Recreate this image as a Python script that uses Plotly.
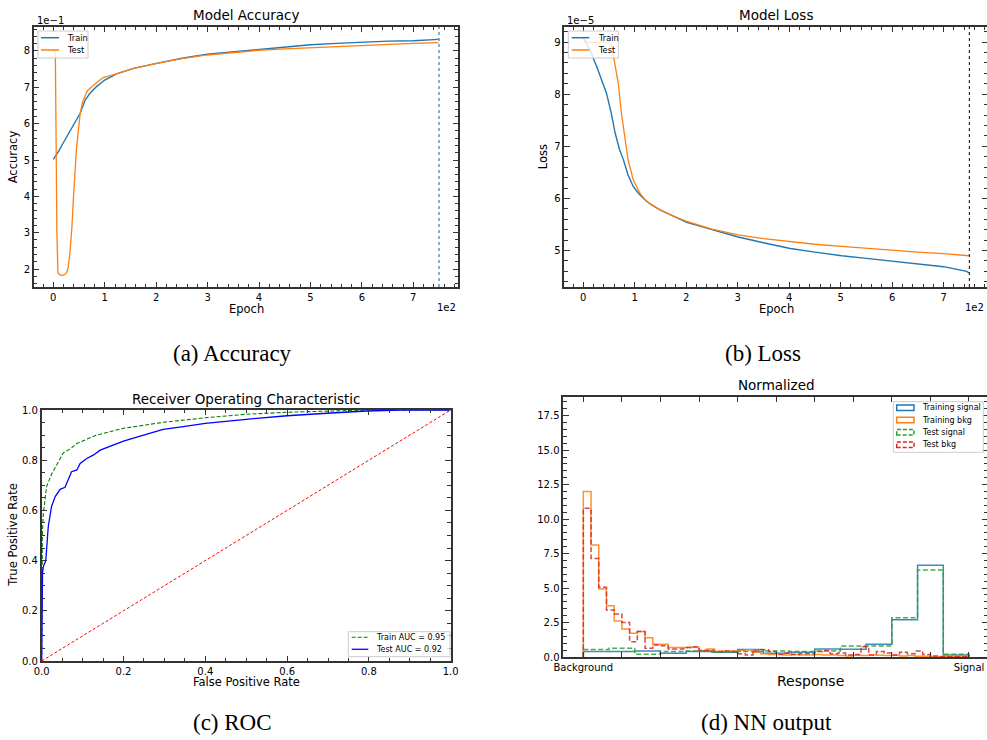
import plotly.graph_objects as go

W, H = 987, 740
FONT = "DejaVu Sans"
SERIF = "Liberation Serif"
SPINE = "#333333"
C_BLUE, C_ORANGE, C_GREEN, C_RED = "#1f77b4", "#ff7f0e", "#2ca02c", "#d62728"

# ---------------- (a) accuracy per epoch ----------------
acc_train_epoch = [0, 10, 19, 32, 42, 52, 62, 71, 84, 100, 123, 156, 201, 250, 299,
                   350, 399, 450, 500, 551, 600, 651, 700, 749]
acc_train = [0.502, 0.523, 0.546, 0.578, 0.605, 0.628, 0.665, 0.683, 0.702, 0.720,
             0.737, 0.752, 0.766, 0.780, 0.791, 0.798, 0.805, 0.811, 0.817, 0.821,
             0.824, 0.827, 0.828, 0.832]
acc_test_epoch = [0, 4, 7, 9, 13, 20, 26, 29, 32, 36, 39, 42, 45, 49, 52, 57, 62, 66,
                  78, 97, 123, 156, 201, 250, 299, 350, 399, 450, 500, 551, 600, 651,
                  700, 749]
acc_test = [0.800, 0.795, 0.300, 0.190, 0.183, 0.183, 0.190, 0.205, 0.240, 0.310,
            0.390, 0.460, 0.530, 0.585, 0.625, 0.660, 0.680, 0.690, 0.706, 0.727,
            0.737, 0.752, 0.766, 0.779, 0.789, 0.796, 0.802, 0.806, 0.809, 0.813,
            0.817, 0.819, 0.821, 0.823]

# ---------------- (b) loss per epoch (units of 1e-5) ----------------
loss_train_epoch = [0, 13, 26, 36, 45, 54, 62, 70, 78, 87, 97, 107, 117, 132, 149,
                    175, 201, 250, 301, 350, 402, 450, 502, 550, 602, 650, 700, 745, 749]
loss_train = [9.08, 8.85, 8.53, 8.28, 8.02, 7.65, 7.25, 6.95, 6.74, 6.45, 6.23, 6.10,
              6.00, 5.88, 5.78, 5.66, 5.54, 5.40, 5.26, 5.15, 5.04, 4.97, 4.90, 4.85,
              4.79, 4.74, 4.69, 4.60, 4.57]
loss_test_epoch = [0, 25, 50, 55, 60, 64, 68, 74, 81, 87, 97, 110, 123, 149, 175, 201,
                   250, 301, 350, 402, 450, 502, 550, 602, 650, 700, 749]
loss_test = [9.00, 9.00, 8.99, 8.93, 8.65, 8.40, 8.21, 7.64, 7.12, 6.74, 6.36, 6.10,
             5.94, 5.78, 5.66, 5.56, 5.41, 5.30, 5.23, 5.17, 5.12, 5.08, 5.04, 5.00,
             4.97, 4.94, 4.90]

# ---------------- (c) ROC curves ----------------
roc_train_fpr = [0.0, 0.0, 0.0016, 0.004, 0.012, 0.024, 0.053, 0.07, 0.086, 0.134,
                 0.2, 0.297, 0.4, 0.5, 0.6, 0.713, 0.8, 1.0]
roc_train_tpr = [0.0, 0.45, 0.509, 0.588, 0.695, 0.744, 0.83, 0.845, 0.867, 0.9,
                 0.927, 0.951, 0.969, 0.983, 0.991, 0.996, 1.0, 1.0]
roc_test_fpr = [0.0, 0.002, 0.004, 0.010, 0.016, 0.024, 0.033, 0.045, 0.057, 0.065,
                0.073, 0.086, 0.094, 0.110, 0.126, 0.143, 0.167, 0.200, 0.249, 0.297,
                0.346, 0.400, 0.500, 0.600, 0.697, 0.795, 0.876, 1.0]
roc_test_tpr = [0.0, 0.35, 0.376, 0.400, 0.535, 0.615, 0.655, 0.684, 0.692, 0.720,
                0.754, 0.761, 0.787, 0.807, 0.820, 0.840, 0.856, 0.876, 0.900, 0.923,
                0.934, 0.947, 0.963, 0.977, 0.987, 0.996, 1.0, 1.0]
auc_train, auc_test = 0.95, 0.92

# ---------------- (d) normalized NN response histograms ----------------
sig_train = [0.39, 0.39, 0.44, 0.27, 0.39, 0.34, 0.55, 0.27, 0.34, 0.58, 0.56, 0.92,
             2.70, 6.65, 0.15]
sig_test = [0.55, 0.63, 0.20, 0.39, 0.44, 0.34, 0.39, 0.44, 0.39, 0.44, 0.80, 0.80,
            2.85, 6.30, 0.20]
bkg_train = [12.0, 8.12, 4.93, 3.72, 2.61, 2.03, 1.72, 1.84, 1.40, 0.92, 0.92, 0.68,
             0.68, 0.68, 0.73, 0.48, 0.58, 0.39, 0.44, 0.44, 0.48, 0.53, 0.34, 0.24,
             0.19, 0.24, 0.15, 0.19, 0.15, 0.15, 0.19, 0.15, 0.15, 0.10, 0.07, 0.12,
             0.10, 0.15, 0.12, 0.10, 0.12, 0.08, 0.10, 0.05, 0.05, 0.03, 0.02, 0.01,
             0.01, 0.01]
bkg_test = [10.78, 7.15, 5.05, 3.41, 3.12, 2.51, 1.11, 1.84, 0.63, 0.87, 0.82, 0.58,
            0.58, 0.68, 0.73, 0.48, 0.48, 0.39, 0.44, 0.39, 0.24, 0.15, 0.44, 0.53,
            0.39, 0.19, 0.29, 0.19, 0.24, 0.24, 0.39, 0.48, 0.24, 0.29, 0.15, 0.19,
            0.75, 0.15, 0.39, 0.29, 0.15, 0.34, 0.24, 0.44, 0.19, 0.07, 0.03, 0.02,
            0.01, 0.01]
resp_ticks = [i / 10 for i in range(11)]
resp_ticktext = ["Background"] + [""] * 9 + ["Signal"]


def fx(px):
    return px / W


def fy(py):
    return 1 - py / H


def step_outline(heights):
    """Outline of a step histogram on [0, 1] with equal-width bins."""
    n = len(heights)
    edges = [i / n for i in range(n + 1)]
    xs = [edges[0]] + edges[:-1] + [edges[-1]]
    ys = [0.0] + list(heights) + [0.0]
    return xs, ys


fig = go.Figure()

# (a)
fig.add_trace(go.Scatter(x=acc_train_epoch, y=acc_train, mode="lines",
                         line=dict(color=C_BLUE, width=1.4), xaxis="x", yaxis="y"))
fig.add_trace(go.Scatter(x=acc_test_epoch, y=acc_test, mode="lines",
                         line=dict(color=C_ORANGE, width=1.3), xaxis="x", yaxis="y"))
# (b)
fig.add_trace(go.Scatter(x=loss_train_epoch, y=loss_train, mode="lines",
                         line=dict(color=C_BLUE, width=1.4), xaxis="x2", yaxis="y2"))
fig.add_trace(go.Scatter(x=loss_test_epoch, y=loss_test, mode="lines",
                         line=dict(color=C_ORANGE, width=1.3), xaxis="x2", yaxis="y2"))
# (c)
fig.add_trace(go.Scatter(x=roc_train_fpr, y=roc_train_tpr, mode="lines",
                         line=dict(color="#008000", width=1.1, dash="4px,2px"),
                         xaxis="x3", yaxis="y3"))
fig.add_trace(go.Scatter(x=roc_test_fpr, y=roc_test_tpr, mode="lines",
                         line=dict(color="#0000ff", width=1.3), xaxis="x3", yaxis="y3"))
fig.add_trace(go.Scatter(x=[0, 1], y=[0, 1], mode="lines",
                         line=dict(color="#ff0000", width=1, dash="3px,2px"),
                         xaxis="x3", yaxis="y3"))
# (d)
for vals, col, dash in [(sig_train, C_BLUE, "solid"), (bkg_train, C_ORANGE, "solid"),
                        (sig_test, C_GREEN, "5px,2.5px"), (bkg_test, C_RED, "5px,2.5px")]:
    xs, ys = step_outline(vals)
    fig.add_trace(go.Scatter(x=xs, y=ys, mode="lines", line_shape="hv",
                             line=dict(color=col, width=1.5, dash=dash), opacity=0.85,
                             xaxis="x4", yaxis="y4"))

fig.update_traces(showlegend=False, hoverinfo="skip")

AX = dict(showline=True, linecolor=SPINE, linewidth=1.6, mirror="ticks",
          ticks="inside", ticklen=5.5, tickwidth=1, tickcolor=SPINE,
          showgrid=False, zeroline=False, automargin=False,
          tickfont=dict(family=FONT, size=10, color="black"))


def minor(d):
    return dict(tickmode="linear", ticks="inside", ticklen=3.5, tickwidth=0.9,
                tickcolor=SPINE, dtick=d, tick0=0, showgrid=False)


top_ab, bot_ab = fy(287), fy(27)
fig.update_layout(
    template="none",
    width=W, height=H, margin=dict(l=0, r=0, t=0, b=0, autoexpand=False),
    paper_bgcolor="white", plot_bgcolor="white", showlegend=False,
    xaxis=dict(AX, domain=[fx(34), fx(458)], anchor="y", range=[-37.5, 786.9],
               tickmode="array", tickvals=[0, 100, 200, 300, 400, 500, 600, 700],
               ticktext=[str(i) for i in range(8)], minor=minor(20)),
    yaxis=dict(AX, domain=[top_ab, bot_ab], anchor="x", range=[0.1505, 0.866],
               tickmode="array", tickvals=[0.2, 0.3, 0.4, 0.5, 0.6, 0.7, 0.8],
               ticktext=[str(i) for i in range(2, 9)], minor=minor(0.02)),
    xaxis2=dict(AX, domain=[fx(564.3), 1.0], anchor="y2", range=[-36.9, 784.3],
                tickmode="array", tickvals=[0, 100, 200, 300, 400, 500, 600, 700],
                ticktext=[str(i) for i in range(8)], minor=minor(20)),
    yaxis2=dict(AX, domain=[top_ab, bot_ab], anchor="x2", range=[4.30, 9.29],
                dtick=1, tick0=0, minor=minor(0.2)),
    xaxis3=dict(AX, domain=[fx(41.7), fx(450.7)], anchor="y3", range=[0, 1],
                dtick=0.2, tick0=0, tickformat=".1f", minor=minor(0.05)),
    yaxis3=dict(AX, domain=[fy(661), fy(410)], anchor="x3", range=[0, 1],
                dtick=0.2, tick0=0, tickformat=".1f", minor=minor(0.05)),
    xaxis4=dict(AX, domain=[fx(563.3), 1.0], anchor="y4", range=[-0.0519, 1.0467],
                tickmode="array", tickvals=resp_ticks, ticktext=resp_ticktext),
    yaxis4=dict(AX, domain=[fy(657), fy(397)], anchor="x4", range=[0, 18.85],
                dtick=2.5, tick0=0, tickformat=".1f", minor=minor(0.5)),
)

# vertical markers at the last epoch
fig.add_shape(type="line", xref="x", yref="y domain", x0=750, x1=750, y0=0, y1=1,
              line=dict(color=C_BLUE, width=1.6, dash="dot"), opacity=0.7)
fig.add_shape(type="line", xref="x2", yref="y2 domain", x0=750, x1=750, y0=0, y1=1,
              line=dict(color="black", width=1, dash="dot"))


def text(x, y, s, size, xanchor="center", yanchor="middle", angle=0, family=FONT):
    fig.add_annotation(x=fx(x), y=fy(y), xref="paper", yref="paper", text=s,
                       showarrow=False, xanchor=xanchor, yanchor=yanchor,
                       textangle=angle, font=dict(family=family, size=size, color="black"))


def legend_box(x0, y0, x1, y1):
    fig.add_shape(type="rect", xref="paper", yref="paper", x0=fx(x0), x1=fx(x1),
                  y0=fy(y1), y1=fy(y0), line=dict(color="#cccccc", width=1),
                  fillcolor="rgba(255,255,255,0.8)", layer="above")


def legend_line(x0, x1, y, color, dash="solid", width=1.5):
    fig.add_shape(type="line", xref="paper", yref="paper", x0=fx(x0), x1=fx(x1),
                  y0=fy(y), y1=fy(y), line=dict(color=color, width=width, dash=dash),
                  layer="above")


def legend_patch(x0, x1, y, color, dash="solid"):
    fig.add_shape(type="rect", xref="paper", yref="paper", x0=fx(x0), x1=fx(x1),
                  y0=fy(y + 2.8), y1=fy(y - 2.8), fillcolor="rgba(0,0,0,0)",
                  line=dict(color=color, width=1.5, dash=dash), layer="above")


# titles
text(246, 15.5, "Model Accuracy", 13.5)
text(776, 15.5, "Model Loss", 13.5)
text(246.2, 399, "Receiver Operating Characteristic", 13.5)
text(776.5, 385.5, "Normalized", 13.5)

# axis labels
text(246, 309, "Epoch", 11.5)
text(776.5, 309, "Epoch", 11.5)
text(13.3, 157, "Accuracy", 11.5, angle=-90)
text(543.3, 157, "Loss", 11.5, angle=-90)
text(246.7, 682.3, "False Positive Rate", 11.5)
text(12.7, 535, "True Positive Rate", 11.5, angle=-90)
text(810, 680.7, "Response", 14)

# axis offset labels
text(35, 20.5, "1e\u22121", 10, xanchor="left")
text(565, 20.5, "1e\u22125", 10, xanchor="left")
text(458, 307.5, "1e2", 10, xanchor="right")
text(986, 307.5, "1e2", 10, xanchor="right")

# legends
legend_box(38, 31, 88, 58)
legend_line(41, 59, 37.7, C_BLUE)
legend_line(41, 59, 50, C_ORANGE)
text(65, 37.7, "Train", 8.2, xanchor="left")
text(65, 50, "Test", 8.2, xanchor="left")

legend_box(568.3, 31, 618.3, 58)
legend_line(571.7, 589.3, 37.7, C_BLUE)
legend_line(571.7, 589.3, 50, C_ORANGE)
text(595.7, 37.7, "Train", 8.2, xanchor="left")
text(595.7, 50, "Test", 8.2, xanchor="left")

legend_box(348.3, 631.7, 450, 656.7)
legend_line(351.7, 368.3, 637.3, "#008000", dash="4px,2px", width=1.1)
legend_line(351.7, 368.3, 649.3, "#0000ff", width=1.3)
text(374, 637.3, f"Train AUC = {auc_train:.2f}", 8, xanchor="left")
text(374, 649.3, f"Test AUC = {auc_test:.2f}", 8, xanchor="left")

legend_box(893.3, 401.7, 983.3, 452.3)
for yy, col, dash, lab in [(407.7, C_BLUE, "solid", "Training signal"),
                           (420.0, C_ORANGE, "solid", "Training bkg"),
                           (432.3, C_GREEN, "4px,2px", "Test signal"),
                           (444.7, C_RED, "4px,2px", "Test bkg")]:
    legend_patch(896.7, 914, yy, col, dash)
    text(919.5, yy, lab, 8, xanchor="left")

# sub-figure captions
text(232, 353, "(a) Accuracy", 23, family=SERIF)
text(762.5, 353, "(b) Loss", 23, family=SERIF)
text(232, 722, "(c) ROC", 23, family=SERIF)
text(766, 722, "(d) NN output", 23, family=SERIF)

fig.write_html("out.html")
